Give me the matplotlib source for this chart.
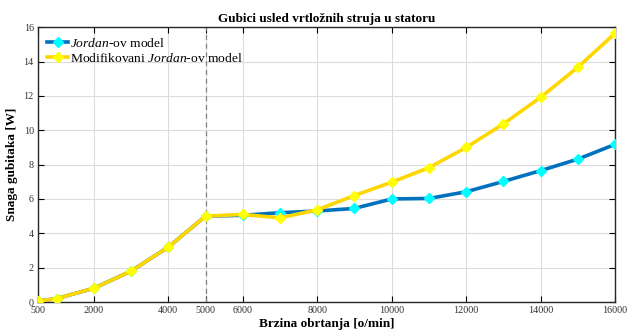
import matplotlib
matplotlib.use("Agg")
import matplotlib.pyplot as plt

plt.rcParams['font.family'] = ['Liberation Serif', 'DejaVu Serif']
plt.rcParams['mathtext.fontset'] = 'custom'
plt.rcParams['mathtext.rm'] = 'Liberation Serif'
plt.rcParams['mathtext.it'] = 'Liberation Serif:italic'

speed = [500, 1000, 2000, 3000, 4000, 5000, 6000, 7000, 8000, 9000, 10000,
         11000, 12000, 13000, 14000, 15000, 16000]
jordan = [0.05, 0.2, 0.8, 1.8, 3.2, 5.0, 5.05, 5.2, 5.3, 5.45, 6.0,
          6.03, 6.42, 7.02, 7.65, 8.32, 9.18]
modified = [0.05, 0.2, 0.8, 1.8, 3.2, 5.0, 5.1, 4.9, 5.37, 6.2, 6.98,
            7.82, 9.0, 10.37, 11.92, 13.67, 15.65]
xticks = [500, 2000, 4000, 5000, 6000, 8000, 10000, 12000, 14000, 16000]
yticks = [0, 2, 4, 6, 8, 10, 12, 14, 16]

fig = plt.figure(figsize=(6.3, 3.31), dpi=100)
ax = fig.add_axes([0.0603, 0.0876, 0.916, 0.830])

ax.axvline(5000, color='#808080', linestyle=(0, (4, 3)), linewidth=0.9, zorder=1)
ax.plot(speed, jordan, color='#0072BD', linewidth=2.6, marker='D',
        markersize=5.5, markerfacecolor='#00FFFF', markeredgecolor='#00FFFF',
        label=r'$\mathit{Jordan}$-ov model', zorder=3)
ax.plot(speed, modified, color='#FFD700', linewidth=2.6, marker='D',
        markersize=5.5, markerfacecolor='#FFFF00', markeredgecolor='#FFFF00',
        label=r'Modifikovani $\mathit{Jordan}$-ov model', zorder=4)

ax.set_xlim(500, 16000)
ax.set_ylim(0, 16)
ax.set_xticks(xticks)
ax.set_yticks(yticks)
ax.grid(True, color='#DCDCDC', linewidth=0.8)
ax.set_axisbelow(True)
ax.tick_params(direction='in', top=True, right=True, labelsize=7.3,
               labelcolor='#333333', length=4, width=0.8, pad=3)
for s in ax.spines.values():
    s.set_linewidth(1.0)
    s.set_color('#262626')

ax.set_title('Gubici usled vrtložnih struja u statoru', fontsize=9.5,
             fontweight='bold', pad=4)
ax.set_xlabel('Brzina obrtanja [o/min]', fontsize=9.5, fontweight='bold', labelpad=2)
ax.set_ylabel('Snaga gubitaka [W]', fontsize=9.5, fontweight='bold', labelpad=4)

ax.legend(loc='upper left', frameon=False, fontsize=9.7, handlelength=1.5,
          handletextpad=0.2, borderaxespad=0.3, labelspacing=0.15)

fig.savefig('out.png', dpi=100)
